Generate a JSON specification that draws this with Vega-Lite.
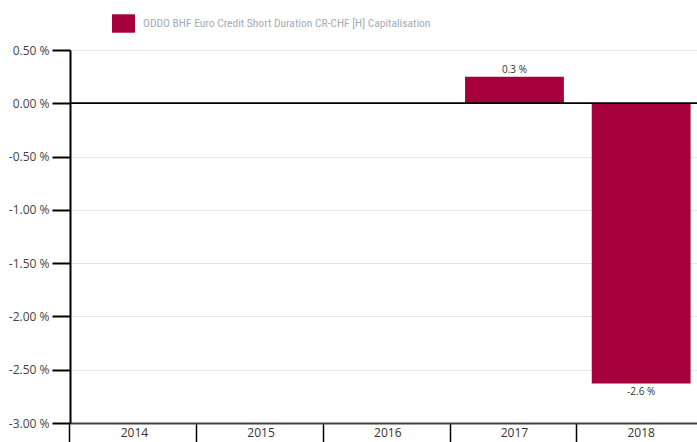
{
  "$schema": "https://vega.github.io/schema/vega-lite/v6.json",
  "width": 627,
  "height": 373,
  "autosize": {"type": "none"},
  "padding": {"left": 70, "top": 50, "right": 0, "bottom": 19},
  "background": "white",
  "config": {"view": {"stroke": null}, "font": "Open Sans"},
  "data": {
    "values": [
      {"year": "2014", "value": null, "label": "", "series": "ODDO BHF Euro Credit Short Duration  CR-CHF [H] Capitalisation"},
      {"year": "2015", "value": null, "label": "", "series": "ODDO BHF Euro Credit Short Duration  CR-CHF [H] Capitalisation"},
      {"year": "2016", "value": null, "label": "", "series": "ODDO BHF Euro Credit Short Duration  CR-CHF [H] Capitalisation"},
      {"year": "2017", "value": 0.25, "label": "0.3 %", "series": "ODDO BHF Euro Credit Short Duration  CR-CHF [H] Capitalisation"},
      {"year": "2018", "value": -2.63, "label": "-2.6 %", "series": "ODDO BHF Euro Credit Short Duration  CR-CHF [H] Capitalisation"}
    ]
  },
  "encoding": {
    "x": {
      "field": "year", "type": "nominal",
      "scale": {"domain": ["2014", "2015", "2016", "2017", "2018"], "paddingInner": 0.22, "paddingOuter": 0.0845, "align": 0.7},
      "axis": {
        "title": null, "labelAngle": 0, "grid": false,
        "domainColor": "#444", "domainWidth": 2,
        "tickColor": "#000", "tickWidth": 1.5, "tickSize": 20,
        "bandPosition": -0.152,
        "labelPadding": -16, "labelFontSize": 12, "labelColor": "#333"
      }
    },
    "y": {
      "field": "value", "type": "quantitative",
      "scale": {"domain": [-3, 0.5], "nice": false, "zero": false},
      "axis": {
        "title": null,
        "values": [-3, -2.5, -2, -1.5, -1, -0.5, 0, 0.5],
        "labelExpr": "(datum.value < -0.0001 ? '-' : '') + format(abs(datum.value), '.2f') + ' %'",
        "domainColor": "#000", "domainWidth": 2,
        "tickColor": "#000", "tickWidth": 2, "tickSize": 18,
        "labelPadding": 3, "labelFontSize": 12, "labelColor": "#444",
        "gridColor": "#e6e6e6", "gridWidth": 1
      }
    }
  },
  "layer": [
    {
      "mark": {"type": "bar"},
      "encoding": {
        "color": {
          "field": "series", "type": "nominal",
          "scale": {"range": ["#a5003c"]},
          "legend": {
            "title": null, "orient": "none", "legendX": 42, "legendY": -38,
            "symbolType": "M-1,-0.8H1V0.8H-1Z", "symbolSize": 529,
            "symbolStrokeWidth": 0, "symbolOpacity": 1,
            "labelFont": "Roboto Condensed, DejaVu Sans Condensed, Roboto", "labelFontSize": 11.5,
            "labelColor": "#a3acb5", "labelOffset": 8, "padding": 0, "labelLimit": 0
          }
        }
      }
    },
    {
      "mark": {"type": "rule", "color": "#000", "strokeWidth": 1.5},
      "encoding": {"y": {"datum": 0}, "x": null}
    },
    {
      "transform": [{"filter": "datum.value > 0"}],
      "mark": {"type": "text", "baseline": "bottom", "dy": -2, "fontSize": 10, "color": "#333"},
      "encoding": {"text": {"field": "label"}}
    },
    {
      "transform": [{"filter": "datum.value < 0"}],
      "mark": {"type": "text", "baseline": "top", "dy": 3, "fontSize": 10, "color": "#333"},
      "encoding": {"text": {"field": "label"}}
    }
  ]
}
